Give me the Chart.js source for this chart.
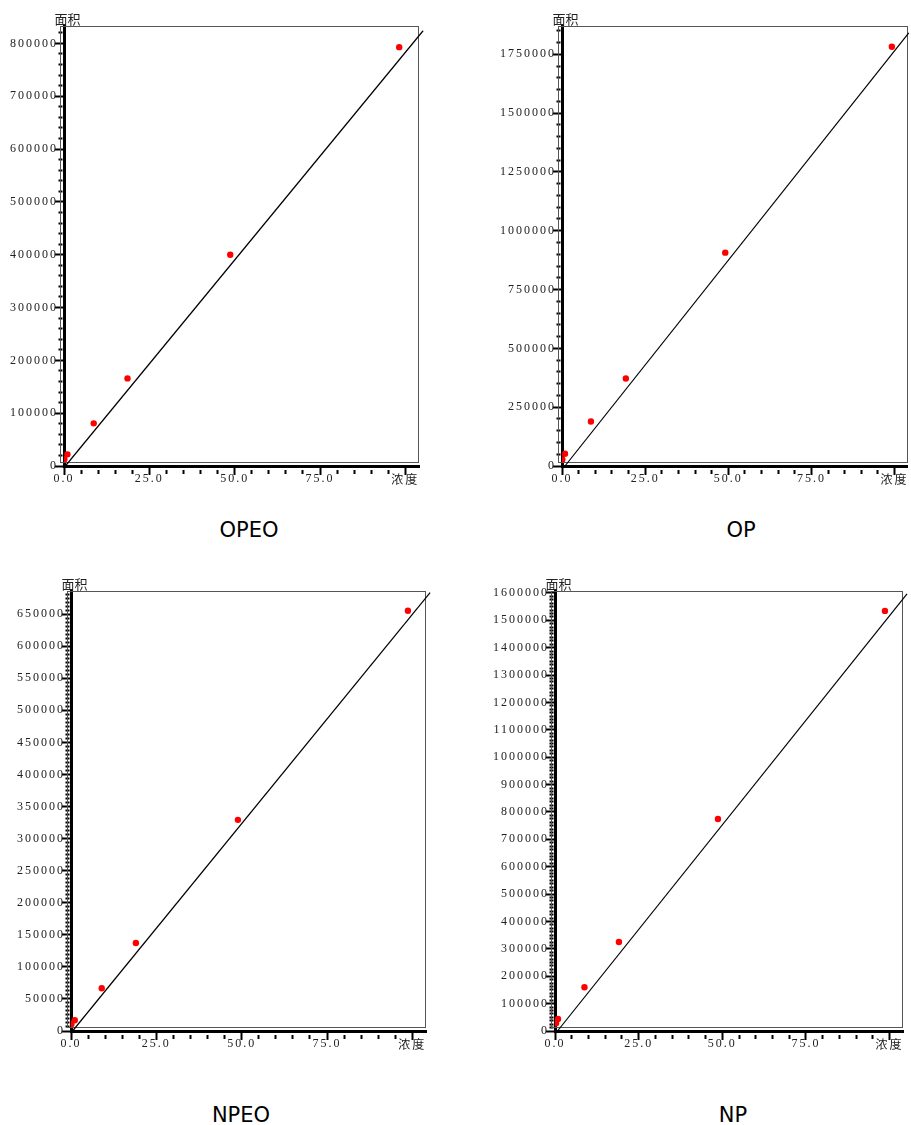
<!DOCTYPE html>
<html lang="zh">
<head>
<meta charset="UTF-8">
<title>标准曲线</title>
<style>
  html, body { margin: 0; padding: 0; background: #fff; }
  body { width: 911px; height: 1125px; position: relative; overflow: hidden; }
  canvas { position: absolute; }
  .name {
    position: absolute;
    width: 200px;
    text-align: center;
    font: 21px "DejaVu Sans", sans-serif;
    line-height: 24px;
    color: #000;
  }
</style>
</head>
<body>
<canvas id="opeo" width="450" height="500" style="left:0;top:0"></canvas>
<canvas id="op" width="451" height="500" style="left:460px;top:0"></canvas>
<canvas id="npeo" width="450" height="500" style="left:0;top:560px"></canvas>
<canvas id="np" width="451" height="500" style="left:460px;top:560px"></canvas>

<div class="name" style="left:149px;top:518px">OPEO</div>
<div class="name" style="left:641px;top:518px">OP</div>
<div class="name" style="left:141px;top:1103px">NPEO</div>
<div class="name" style="left:633px;top:1103px">NP</div>

<script src="https://cdn.jsdelivr.net/npm/chart.js@4"></script>
<script>
  // x axis (浓度), shared by all four panels
  const xMax = 104;
  const xMinor = 5;
  const xMajor = 25;
  const xNameAt = 100;   // the "浓度" label sits on this tick

  // OPEO
  const opeoConc = [0.1, 1.0, 8.7, 18.6, 48.7, 98.2];
  const opeoArea = [12700, 22100, 80700, 165800, 400000, 793000];
  const opeoFitConc = [0.4, 105.2];
  const opeoFitArea = [0, 824000];

  // OP
  const opConc = [0.1, 0.9, 8.7, 19.2, 49.1, 99.2];
  const opArea = [27600, 51800, 189000, 371600, 906700, 1781600];
  const opFitConc = [0.9, 104.3];
  const opFitArea = [0, 1841000];

  // NPEO
  const npeoConc = [0.1, 1.1, 9.0, 19.0, 48.9, 98.7];
  const npeoArea = [10500, 16700, 66600, 137300, 329200, 655200];
  const npeoFitConc = [0.45, 105.2];
  const npeoFitArea = [0, 683300];

  // NP
  const npConc = [0.3, 0.9, 8.8, 19.1, 48.7, 98.6];
  const npArea = [28100, 43800, 159600, 325100, 774400, 1534300];
  const npFitConc = [0.75, 105.2];
  const npFitArea = [0, 1596400];

  const numFont = { family: '"Liberation Serif", "DejaVu Serif", serif', size: 12 };
  const cjkFont = { family: '"Noto Sans CJK SC", sans-serif', size: 12 };

  const isMult = (v, step) => Math.abs(v / step - Math.round(v / step)) < 1e-6;

  // chart.js spreads min..max evenly when stepSize is big, so set the ticks ourselves
  function stepTicks(max, step) {
    return scale => {
      const t = [];
      for (let k = 0; k * step <= max; k++) t.push({ value: k * step });
      scale.ticks = t;
    };
  }

  // thin box round the plot + 面积 label + wide digit spacing
  const framePlugin = {
    id: 'frame',
    beforeDraw(chart) {
      chart.ctx.letterSpacing = '2px';
    },
    beforeDatasetsDraw(chart) {
      const { ctx, chartArea: a } = chart;
      const l = Math.round(a.left) - 3.5;
      const t = Math.round(a.top) + 0.5;
      const r = Math.round(a.right) - 0.5;
      const b = Math.round(a.bottom) - 3.5;
      ctx.save();
      ctx.strokeStyle = '#555';
      ctx.lineWidth = 1;
      ctx.strokeRect(l, t, r - l, b - t);
      ctx.restore();
    },
    afterDraw(chart) {
      const { ctx, chartArea: a } = chart;
      ctx.save();
      ctx.font = '13px "Noto Sans CJK SC", sans-serif';
      ctx.letterSpacing = '0px';
      ctx.fillStyle = '#222';
      ctx.textAlign = 'center';
      ctx.textBaseline = 'alphabetic';
      ctx.fillText('面积', a.left + 3.5, a.top - 2);
      ctx.restore();
    }
  };

  function makePanel(id, conc, area, fitConc, fitArea, box) {
    const points = conc.map((x, i) => ({ x: x, y: area[i] }));
    const fit = fitConc.map((x, i) => ({ x: x, y: fitArea[i] }));

    return new Chart(document.getElementById(id), {
      type: 'scatter',
      data: {
        datasets: [
          {
            data: points,
            pointRadius: 3.2,
            pointBackgroundColor: '#ff0000',
            pointBorderWidth: 0,
            pointHoverRadius: 3.2
          },
          {
            data: fit,
            showLine: true,
            borderColor: '#000',
            borderWidth: 1.2,
            pointRadius: 0,
            clip: false
          }
        ]
      },
      options: {
        responsive: false,
        animation: false,
        events: [],
        layout: { padding: { top: box.padTop, right: box.padRight, left: 0, bottom: 0 } },
        plugins: { legend: { display: false }, tooltip: { enabled: false } },
        scales: {
          x: {
            type: 'linear',
            min: 0,
            max: xMax,
            border: { display: true, color: '#000', width: 3 },
            grid: {
              drawOnChartArea: false,
              tickLength: 9,
              tickColor: '#000',
              tickWidth: 2,
              tickBorderDash: c => (c.tick && isMult(c.tick.value, xMajor) ? [] : [4, 100]),
              tickBorderDashOffset: c => (c.tick && isMult(c.tick.value, xMajor) ? 0 : -2)
            },
            ticks: {
              autoSkip: false,
              maxRotation: 0,
              minRotation: 0,
              padding: -3,
              color: '#222',
              font: c => (c.tick && c.tick.value === xNameAt ? cjkFont : numFont),
              callback: v => (v === xNameAt ? '浓度' : isMult(v, xMajor) ? v.toFixed(1) : '')
            },
            afterBuildTicks: stepTicks(xMax, xMinor),
            afterFit: s => { s.height = box.xHeight; }
          },
          y: {
            type: 'linear',
            min: 0,
            max: box.yMax,
            border: { display: true, color: '#000', width: 3 },
            grid: {
              drawOnChartArea: false,
              tickLength: 9,
              tickColor: '#000',
              tickWidth: 2,
              tickBorderDash: c => (c.tick && isMult(c.tick.value, box.yMajor) ? [] : [4, 100]),
              tickBorderDashOffset: c => (c.tick && isMult(c.tick.value, box.yMajor) ? 0 : -3.5)
            },
            ticks: {
              autoSkip: false,
              padding: -3,
              color: '#222',
              font: numFont,
              callback: v => (isMult(v, box.yMajor) ? String(v) : '')
            },
            afterBuildTicks: stepTicks(box.yMax, box.yMinor),
            afterFit: s => { s.width = box.yWidth; }
          }
        }
      },
      plugins: [framePlugin]
    });
  }

  makePanel('opeo', opeoConc, opeoArea, opeoFitConc, opeoFitArea,
    { yWidth: 64, xHeight: 34, padTop: 26, padRight: 31, yMax: 833000, yMajor: 100000, yMinor: 20000 });
  makePanel('op', opConc, opArea, opFitConc, opFitArea,
    { yWidth: 102, xHeight: 34, padTop: 26, padRight: 2, yMax: 1870000, yMajor: 250000, yMinor: 50000 });
  makePanel('npeo', npeoConc, npeoArea, npeoFitConc, npeoFitArea,
    { yWidth: 71, xHeight: 29, padTop: 31, padRight: 24, yMax: 686000, yMajor: 50000, yMinor: 6250 });
  makePanel('np', npConc, npArea, npFitConc, npFitArea,
    { yWidth: 95, xHeight: 29, padTop: 31, padRight: 8, yMax: 1607000, yMajor: 100000, yMinor: 12500 });
</script>
</body>
</html>
